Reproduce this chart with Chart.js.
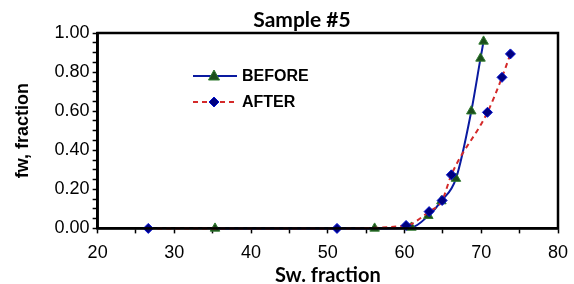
<!DOCTYPE html>
<html>
<head>
<meta charset="utf-8">
<script src="https://cdn.jsdelivr.net/npm/chart.js@4.4.0/dist/chart.umd.min.js"></script>
<style>
  html, body { margin: 0; padding: 0; background: #fff; }
  #wrap { width: 574px; height: 284px; }
</style>
</head>
<body>
<div id="wrap"><canvas id="chart" width="574" height="284"></canvas></div>
<script>
// --- data ---
const chartTitle = 'Sample #5';
const xTitle = 'Sw. fraction';
const yTitle = 'fw, fraction';
const seriesNames = ['BEFORE', 'AFTER'];

const beforeSw = [35.3, 56.1, 60.9, 63.1, 64.8, 66.7, 68.7, 69.9, 70.3];
const beforeFw = [0.00, 0.00, 0.005, 0.065, 0.14, 0.255, 0.60, 0.87, 0.957];

const afterSw = [26.6, 51.2, 60.2, 63.2, 64.9, 66.1, 70.8, 72.7, 73.8];
const afterFw = [0.00, 0.00, 0.015, 0.086, 0.143, 0.274, 0.594, 0.773, 0.893];

const xMin = 20, xMax = 80, xMajor = 10, xMinor = 5;
const yMin = 0, yMax = 1, yMajor = 0.2, yMinor = 0.05;

const toPoints = (xs, ys) => xs.map((x, i) => ({ x: x, y: ys[i] }));

const BLUE = '#0a1aa0';
const RED = '#d42a2a';
const GREEN_FILL = '#1b4d1b';
const GREEN_EDGE = '#2f7a2f';
const DIAMOND_FILL = '#000080';
const DIAMOND_EDGE = '#0010d0';

// frame, titles and legend drawn on top
const extras = {
  id: 'extras',
  afterDraw(chart) {
    const ctx = chart.ctx;
    const a = chart.chartArea;
    ctx.save();
    ctx.strokeStyle = '#000';
    ctx.lineWidth = 2.5;
    ctx.strokeRect(a.left, a.top, a.right - a.left, a.bottom - a.top);

    ctx.fillStyle = '#000';
    ctx.font = 'bold 21px Lato, "Liberation Sans", sans-serif';
    ctx.textAlign = 'center';
    ctx.textBaseline = 'alphabetic';
    ctx.fillText(chartTitle, 302, 27);

    // x axis title, partly cut off by the bottom edge like the original
    ctx.font = 'bold 20px Lato, "Liberation Sans", sans-serif';
    ctx.fillText(xTitle, (a.left + a.right) / 2, 282);

    // legend
    const lx0 = 193, lx1 = 237, mx = 214, tx = 242;
    const rows = [76, 102];
    ctx.font = 'bold 16px "Liberation Sans", Arial, sans-serif';
    ctx.textAlign = 'left';
    ctx.textBaseline = 'middle';

    ctx.strokeStyle = BLUE;
    ctx.lineWidth = 2;
    ctx.setLineDash([]);
    ctx.beginPath(); ctx.moveTo(lx0, rows[0]); ctx.lineTo(lx1, rows[0]); ctx.stroke();
    ctx.fillStyle = GREEN_FILL;
    ctx.strokeStyle = GREEN_EDGE;
    ctx.lineWidth = 1;
    ctx.beginPath();
    ctx.moveTo(mx, rows[0] - 6); ctx.lineTo(mx + 5.5, rows[0] + 4); ctx.lineTo(mx - 5.5, rows[0] + 4);
    ctx.closePath(); ctx.fill(); ctx.stroke();

    ctx.strokeStyle = RED;
    ctx.lineWidth = 2;
    ctx.setLineDash([5, 4]);
    ctx.beginPath(); ctx.moveTo(lx0, rows[1]); ctx.lineTo(lx1, rows[1]); ctx.stroke();
    ctx.setLineDash([]);
    ctx.fillStyle = DIAMOND_FILL;
    ctx.strokeStyle = DIAMOND_EDGE;
    ctx.lineWidth = 1;
    ctx.beginPath();
    ctx.moveTo(mx, rows[1] - 5); ctx.lineTo(mx + 5, rows[1]); ctx.lineTo(mx, rows[1] + 5); ctx.lineTo(mx - 5, rows[1]);
    ctx.closePath(); ctx.fill(); ctx.stroke();

    ctx.fillStyle = '#000';
    ctx.fillText(seriesNames[0], tx, rows[0] + 1);
    ctx.fillText(seriesNames[1], tx, rows[1] + 1);
    ctx.restore();
  }
};

const ctx = document.getElementById('chart').getContext('2d');
new Chart(ctx, {
  type: 'line',
  data: {
    datasets: [
      {
        label: seriesNames[1],
        data: toPoints(afterSw, afterFw),
        order: 0,
        borderColor: RED,
        borderWidth: 2,
        borderDash: [5, 4],
        cubicInterpolationMode: 'monotone',
        pointStyle: 'rectRot',
        pointRadius: 5,
        pointBackgroundColor: DIAMOND_FILL,
        pointBorderColor: DIAMOND_EDGE,
        pointBorderWidth: 1,
        clip: 10
      },
      {
        label: seriesNames[0],
        data: toPoints(beforeSw, beforeFw),
        order: 1,
        borderColor: BLUE,
        borderWidth: 2,
        cubicInterpolationMode: 'monotone',
        pointStyle: 'triangle',
        pointRadius: 5.5,
        pointBackgroundColor: GREEN_FILL,
        pointBorderColor: GREEN_EDGE,
        pointBorderWidth: 1,
        clip: 10
      }
    ]
  },
  options: {
    responsive: false,
    animation: false,
    layout: { padding: { left: 0, right: 16, top: 33, bottom: 11 } },
    plugins: {
      legend: { display: false },
      tooltip: { enabled: false }
    },
    scales: {
      x: {
        type: 'linear',
        min: xMin,
        max: xMax,
        afterFit: scale => { scale.paddingRight = 0; },
        border: { color: '#000', width: 2.5 },
        grid: { drawOnChartArea: false, drawTicks: true, tickLength: 5, color: '#000', tickWidth: 1.5 },
        ticks: {
          stepSize: xMinor,
          autoSkip: false,
          maxRotation: 0,
          color: '#000',
          padding: 9,
          font: { family: '"Liberation Sans", Arial, sans-serif', size: 18 },
          callback: v => (Math.round(v) % xMajor === 0 ? String(v) : '')
        },
        title: { display: false }
      },
      y: {
        type: 'linear',
        min: yMin,
        max: yMax,
        border: { color: '#000', width: 2.5 },
        grid: { drawOnChartArea: false, drawTicks: true, tickLength: 5, color: '#000', tickWidth: 1.5 },
        ticks: {
          stepSize: yMinor,
          autoSkip: false,
          color: '#000',
          padding: 3,
          font: { family: '"Liberation Sans", Arial, sans-serif', size: 18 },
          callback: v => {
            const h = Math.round(v * 100);
            return h % Math.round(yMajor * 100) === 0 ? (h / 100).toFixed(2) : '';
          }
        },
        title: {
          display: true,
          text: yTitle,
          color: '#000',
          padding: { top: 12, bottom: 18 },
          font: { family: '"Liberation Sans", Arial, sans-serif', size: 18, weight: 'bold' }
        }
      }
    }
  },
  plugins: [extras]
});
</script>
</body>
</html>
